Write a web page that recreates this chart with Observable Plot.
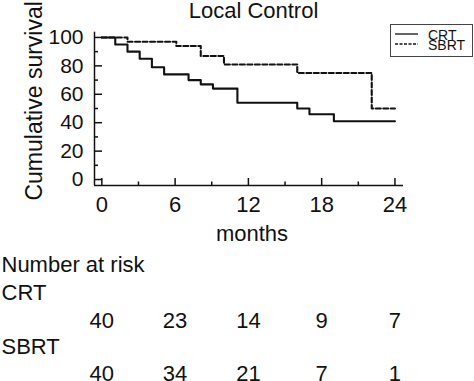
<!DOCTYPE html>
<html>
<head>
<meta charset="utf-8">
<script src="https://cdn.jsdelivr.net/npm/d3@7"></script>
<script src="https://cdn.jsdelivr.net/npm/@observablehq/plot@0.6"></script>
<style>
  html, body { margin: 0; padding: 0; background: #fff; }
  #wrap { position: relative; width: 474px; height: 381px; overflow: hidden; font-family: "Liberation Sans", Arial, sans-serif; }
  #legend { position: absolute; left: 390px; top: 24px; width: 81px; height: 31px; border: 1px solid #444; background: #fff; color: #111; box-sizing: content-box; }
  #legend .sw { position: absolute; left: 4px; width: 23px; height: 4px; }
  #legend .lab { position: absolute; left: 37px; font-family: "Liberation Sans", Arial, sans-serif; font-size: 14px; line-height: 10px; height: 10px; white-space: nowrap; }
</style>
</head>
<body>
<div id="wrap"></div>
<script>
// ---- data ----
const crtTimes  = [0, 1.1, 2.1, 3.1, 4.1, 5.1, 7.1, 8.1, 9.1, 11.1, 16.0, 17.0, 19.0, 24];
const crtSurv   = [100, 95, 90, 85, 79, 74, 70, 67, 64, 54, 50, 46, 41, 41];
const sbrtTimes = [0, 2.1, 6.1, 8.1, 10.0, 16.0, 22.1, 24];
const sbrtSurv  = [100, 97, 94, 87, 81, 75, 50, 50];

const xTicks = [0, 6, 12, 18, 24];
const xMinorTicks = [3, 9, 15, 21];
const yTicks = [0, 20, 40, 60, 80, 100];
const yMinorTicks = [10, 30, 50, 70, 90];

const riskMonths = [0, 6, 12, 18, 24];
const riskCRT  = [40, 23, 14, 9, 7];
const riskSBRT = [40, 34, 21, 7, 1];

const groups = ["CRT", "SBRT"];
const title = "Local Control";
const xLabel = "months";
const yLabel = "Cumulative survival";
const riskTitle = "Number at risk";

const xDomain = [-0.6, 24.7];
const yDomain = [-4.2, 103.7];

// ---- build tables ----
const crtData = crtTimes.map((t, i) => ({t, s: crtSurv[i]}));
const sbrtData = sbrtTimes.map((t, i) => ({t, s: sbrtSurv[i]}));
const crtRisk = riskMonths.map((m, i) => ({m, n: riskCRT[i]}));
const sbrtRisk = riskMonths.map((m, i) => ({m, n: riskSBRT[i]}));

const ink = "#111";
const plot = Plot.plot({
  width: 474,
  height: 381,
  marginLeft: 94,
  marginRight: 71,
  marginTop: 31.7,
  marginBottom: 196,
  style: {fontFamily: "'Liberation Sans', Arial, sans-serif", fontSize: "22px", color: ink, background: "#fff", overflow: "visible"},
  x: {domain: xDomain, axis: null},
  y: {domain: yDomain, axis: null},
  marks: [
    // axis lines
    Plot.ruleX([xDomain[0]], {stroke: ink, strokeWidth: 1.5}),
    Plot.ruleY([yDomain[0]], {stroke: ink, strokeWidth: 1.5}),
    // y ticks (inward)
    Plot.axisY(yTicks, {tickSize: -8, text: null, label: null, stroke: ink, strokeWidth: 1.5}),
    Plot.axisY(yMinorTicks, {tickSize: -4, text: null, label: null, stroke: ink, strokeWidth: 1.5}),
    Plot.text(yTicks, {y: d => d, text: d => String(d), frameAnchor: "left", textAnchor: "end", lineAnchor: "middle", dx: -11, fontSize: 21, fill: ink}),
    // x ticks (inward)
    Plot.axisX(xTicks, {tickSize: -7, text: null, label: null, stroke: ink, strokeWidth: 1.5}),
    Plot.axisX(xMinorTicks, {tickSize: -3.5, text: null, label: null, stroke: ink, strokeWidth: 1.5}),
    Plot.text(xTicks, {x: d => d, text: d => String(d), frameAnchor: "bottom", lineAnchor: "top", dy: 10.5, fontSize: 22, fill: ink}),
    // curves
    Plot.line(crtData, {x: "t", y: "s", curve: "step-after", stroke: ink, strokeWidth: 2.1}),
    Plot.line(sbrtData, {x: "t", y: "s", curve: "step-after", stroke: ink, strokeWidth: 2.1, strokeDasharray: "5,2.5"}),
    // title
    Plot.text([title], {frameAnchor: "top", lineAnchor: "top", dy: -30, dx: 4.5, fontSize: 22, fill: ink}),
    // y label
    Plot.text([yLabel], {frameAnchor: "left", rotate: -90, textAnchor: "middle", lineAnchor: "middle", dx: -60, dy: -8, fontSize: 23, fill: ink}),
    // x label
    Plot.text([xLabel], {frameAnchor: "bottom", lineAnchor: "top", dy: 39.4, dx: 3, fontSize: 22, fill: ink}),
    // risk table
    Plot.text([riskTitle], {frameAnchor: "bottom-left", textAnchor: "start", lineAnchor: "top", dx: -93, dy: 70.4, fontSize: 22, fill: ink}),
    Plot.text([groups[0]], {frameAnchor: "bottom-left", textAnchor: "start", lineAnchor: "top", dx: -93, dy: 98.4, fontSize: 22, fill: ink}),
    Plot.text(crtRisk, {x: "m", text: "n", frameAnchor: "bottom", lineAnchor: "top", dy: 126.4, fontSize: 22, fill: ink}),
    Plot.text([groups[1]], {frameAnchor: "bottom-left", textAnchor: "start", lineAnchor: "top", dx: -93, dy: 152.4, fontSize: 22, fill: ink}),
    Plot.text(sbrtRisk, {x: "m", text: "n", frameAnchor: "bottom", lineAnchor: "top", dy: 179.4, fontSize: 22, fill: ink})
  ]
});

const wrap = document.getElementById("wrap");
wrap.appendChild(plot);

// legend
const legend = document.createElement("div");
legend.id = "legend";
const dashes = [null, "3,1.5"];
groups.forEach((g, i) => {
  const center = 9 + i * 10;
  const sw = document.createElement("div");
  sw.className = "sw";
  sw.style.top = (center - 2) + "px";
  sw.innerHTML = `<svg width="23" height="4" style="display:block"><line x1="0" x2="23" y1="2" y2="2" stroke="${ink}" stroke-width="1.3" ${dashes[i] ? `stroke-dasharray="${dashes[i]}"` : ""}/></svg>`;
  const lab = document.createElement("div");
  lab.className = "lab";
  lab.style.top = (center - 4) + "px";
  lab.textContent = g;
  legend.appendChild(sw);
  legend.appendChild(lab);
});
wrap.appendChild(legend);
</script>
</body>
</html>
